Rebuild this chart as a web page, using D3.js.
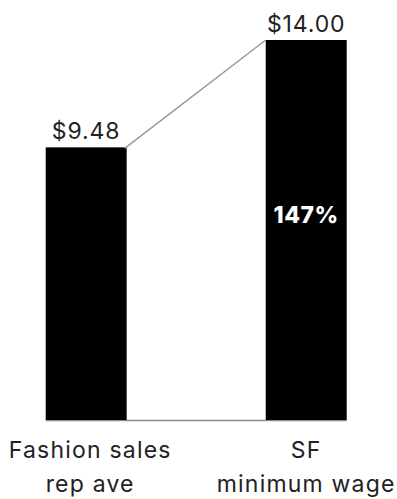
<!DOCTYPE html>
<html>
<head>
<meta charset="utf-8">
<script src="https://cdn.jsdelivr.net/npm/d3@7"></script>
<style>
	body { margin: 0; background: #fff; }
	svg { display: block; }
	.value { font-family: Inter, "Noto Sans", sans-serif; font-size: 23px; fill: #222; letter-spacing: 0.9px; }
	.cat { font-family: Inter, "Noto Sans", sans-serif; font-size: 23px; fill: #222; letter-spacing: 1.2px; }
	.pct { font-family: Inter, "Noto Sans", sans-serif; font-size: 23px; font-weight: 800; fill: #fff; letter-spacing: 0.5px; }
</style>
</head>
<body>
<svg width="397" height="499"></svg>
<script>
// chart data
let categories = ['Fashion sales rep ave', 'SF minimum wage'];
let labelLines = [['Fashion sales', 'rep ave'], ['SF', 'minimum wage']];
let wages = [9.48, 14.00];
let valueLabels = ['$9.48', '$14.00'];
let ratioLabel = '147%';

let svg = d3.select('svg');

let xScale = d3.scaleBand().domain(categories).range([45.7, 346.7]).paddingInner(0.632).paddingOuter(0);
let yScale = d3.scaleLinear().domain([-2, 14]).range([420, 40]);
let base = yScale(-2);

// baseline
svg.append('line')
	.attr('x1', xScale(categories[0]))
	.attr('x2', xScale(categories[1]) + xScale.bandwidth())
	.attr('y1', base + 0.5)
	.attr('y2', base + 0.5)
	.attr('stroke', '#8a8a8a')
	.attr('stroke-width', 1.5);

// bars
svg.selectAll('rect.bar').data(wages).enter().append('rect')
	.attr('class', 'bar')
	.attr('x', function(d, i) { return xScale(categories[i]); })
	.attr('y', function(d) { return yScale(d); })
	.attr('width', xScale.bandwidth())
	.attr('height', function(d) { return base - yScale(d); })
	.attr('fill', '#000');

// connector line
svg.append('line')
	.attr('x1', xScale(categories[0]) + xScale.bandwidth() - 2)
	.attr('y1', yScale(wages[0]) + 1)
	.attr('x2', xScale(categories[1]))
	.attr('y2', yScale(wages[1]))
	.attr('stroke', '#999')
	.attr('stroke-width', 1.5);

// value labels
svg.selectAll('text.value').data(wages).enter().append('text')
	.attr('class', 'value')
	.attr('x', function(d, i) { return xScale(categories[i]) + xScale.bandwidth() / 2; })
	.attr('y', function(d) { return yScale(d) - 8; })
	.attr('text-anchor', 'middle')
	.text(function(d, i) { return valueLabels[i]; });

// ratio label inside right bar
svg.append('text')
	.attr('class', 'pct')
	.attr('x', xScale(categories[1]) + xScale.bandwidth() / 2)
	.attr('y', 223)
	.attr('text-anchor', 'middle')
	.text(ratioLabel);

// category labels
categories.forEach(function(c, i) {
	let cx = xScale(c) + xScale.bandwidth() / 2 + (i === 0 ? 4 : 0);
	let t = svg.append('text')
		.attr('class', 'cat')
		.attr('text-anchor', 'middle');
	labelLines[i].forEach(function(line, j) {
		t.append('tspan')
			.attr('x', cx)
			.attr('y', 457.5 + j * 34)
			.text(line);
	});
});
</script>
</body>
</html>
